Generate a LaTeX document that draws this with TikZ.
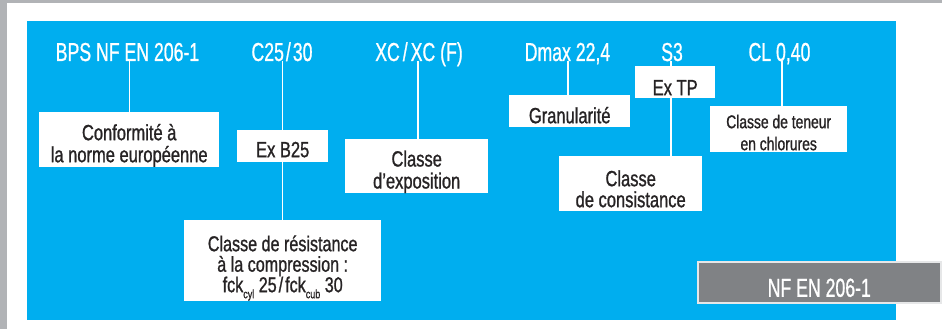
\documentclass[tikz,border=0pt]{standalone}
\usepackage{fontspec}
\setmainfont{Liberation Sans}
\newfontfamily\topfont[FakeStretch=0.68,FakeBold=0.8]{Liberation Sans}
\newfontfamily\boxfont[FakeStretch=0.75,FakeBold=1]{Liberation Sans}
\definecolor{panelblue}{HTML}{00AEEF}
\definecolor{framegray}{HTML}{B1B3B6}
\definecolor{tabgray}{HTML}{808285}
\definecolor{tabedge}{HTML}{E6E7E8}
\definecolor{ink}{HTML}{262324}
\newcommand\lowsub[1]{\raisebox{-6pt}{\fontsize{12}{12}\selectfont #1}}
\newcommand\hup[1]{\rule{0pt}{#1pt}}
\newcommand\ddn[1]{\rule[-#1pt]{0pt}{#1pt}}
\begin{document}
\begin{tikzpicture}[x=1pt,y=-1pt,
  toptext/.style={text=white,font=\topfont\fontsize{26}{26}\selectfont,inner sep=0,anchor=base},
  infobox/.style={fill=white,text=ink,font=\boxfont\fontsize{22}{22}\selectfont,align=center,inner sep=0,anchor=north west},
  smallbox/.style={infobox,font=\boxfont\fontsize{18.5}{22}\selectfont},
  conn/.style={draw=white,line width=1.2pt}]
\useasboundingbox (0,0) rectangle (942,329);
% frame
\fill[white] (0,0) rectangle (942,329);
\fill[framegray] (0,0) rectangle (942,3);
\fill[framegray] (0,0) rectangle (7,329);
\fill[panelblue] (27,21) rectangle (896,320);
% top codes
\node[toptext] (bps) at (127.5,61) {BPS NF EN 206-1};
\node[toptext] (c25) at (282,61) {C25\kern2pt/\kern2pt30};
\node[toptext] (xc) at (419,61) {XC\kern3pt/\kern3ptXC (F)};
\node[toptext] (dmax) at (567.5,61) {Dmax 22,4};
\node[toptext] (s3) at (672,61) {S3};
\node[toptext] (cl) at (779.5,61) {CL 0,40};
% boxes
\node[infobox,minimum width=180,minimum height=55] (conf) at (39,112)
  {\hup{28}Conformit\'e \`a\\la norme europ\'eenne\ddn{5}};
\node[infobox,minimum width=91,minimum height=32] (exb) at (237,130)
  {\hup{27}Ex B25\ddn{5}};
\node[infobox,minimum width=197,minimum height=81,font=\boxfont\fontsize{21.5}{20.5}\selectfont] (res) at (184,220)
  {\hup{31}Classe de r\'esistance\\\`a la compression :\\fck\lowsub{cyl} 25\kern2pt/\kern2ptfck\lowsub{cub} 30\ddn{9}};
\node[infobox,minimum width=143,minimum height=54] (expo) at (345,139)
  {\hup{27.3}Classe\\d’exposition\ddn{4.7}};
\node[infobox,minimum width=121,minimum height=32] (gran) at (509,95)
  {\hup{28}Granularit\'e\ddn{4}};
\node[infobox,minimum width=80,minimum height=32] (extp) at (635,66)
  {\hup{29}Ex TP\ddn{3}};
\node[infobox,minimum width=143,minimum height=55,font=\boxfont\fontsize{22}{21}\selectfont] (cons) at (559,156)
  {\hup{30}Classe\\de consistance\ddn{4}};
\node[smallbox,minimum width=137,minimum height=46] (chl) at (710,106)
  {\hup{22}Classe de teneur\\en chlorures\ddn{2}};
\node[draw=tabedge,line width=1.5pt,fill=tabgray,text=white,inner sep=0,anchor=north west,
  minimum width=243,minimum height=41,font=\topfont\fontsize{26}{26}\selectfont] (nf) at (697,261)
  {\hup{35}NF EN 206-1\ddn{6}};
% connectors
\coordinate (xline) at (418,0);
\coordinate (dline) at (568,0);
\coordinate (sline) at (671,0);
\coordinate (cline) at (782,0);
\draw[conn] (bps.base -| conf.north) -- (conf.north);
\draw[conn] (c25.base -| exb.north) -- (exb.north);
\draw[conn] (exb.south) -- (exb.south |- res.north);
\draw[conn] (xc.base -| xline) -- (expo.north -| xline);
\draw[conn] (dmax.base -| dline) -- (gran.north -| dline);
\draw[conn] (s3.base -| sline) -- (extp.north -| sline);
\draw[conn] (extp.south -| sline) -- (cons.north -| sline);
\draw[conn] (cl.base -| cline) -- (chl.north -| cline);
\end{tikzpicture}
\end{document}
